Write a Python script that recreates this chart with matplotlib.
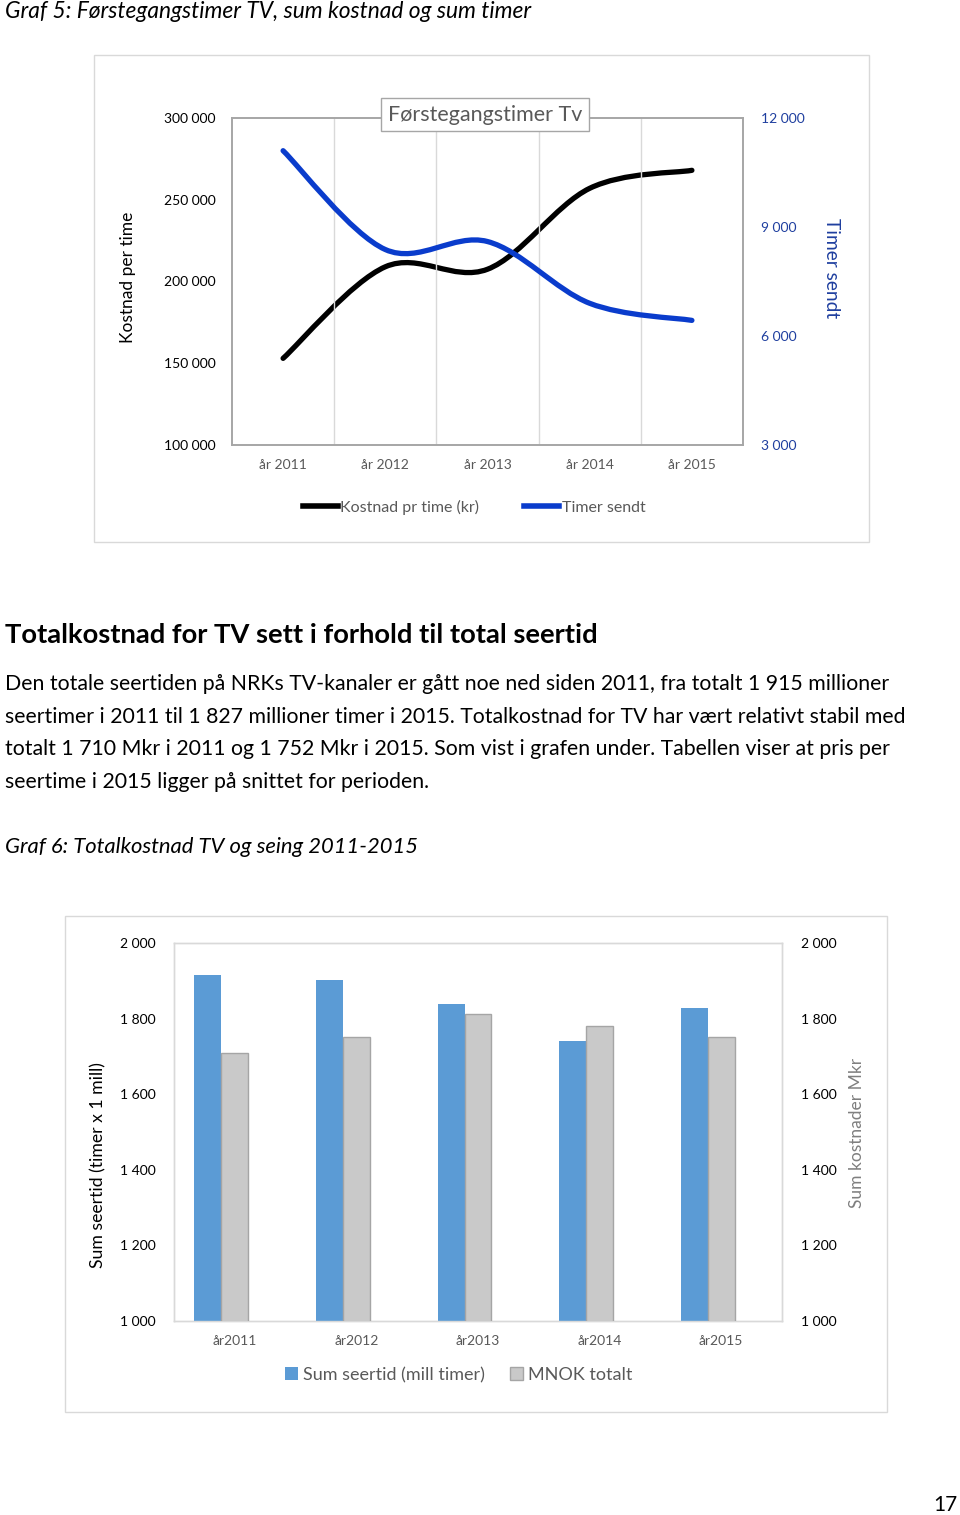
import matplotlib.pyplot as plt
from matplotlib.path import Path
from matplotlib.patches import PathPatch, Rectangle
from matplotlib.lines import Line2D
from matplotlib.ticker import FuncFormatter

plt.rcParams['font.family'] = ['Lato', 'DejaVu Sans']

# Graf 5 data
years_1 = ["år 2011", "år 2012", "år 2013", "år 2014", "år 2015"]
kostnad_pr_time = [153000, 209000, 207500, 257000, 268000]
timer_sendt = [11100, 8380, 8600, 6900, 6430]

# Graf 6 data
years_2 = ["år2011", "år2012", "år2013", "år2014", "år2015"]
sum_seertid = [1915, 1902, 1838, 1742, 1827]
mnok_totalt = [1710, 1752, 1811, 1780, 1752]

W, H = 960, 1515
fig = plt.figure(figsize=(W / 100, H / 100), dpi=100)


def fy(y):
    return 1 - y / H


def fx(x):
    return x / W


def space_fmt(v, pos):
    return f"{int(round(v)):,}".replace(",", " ")


def smooth_path(xs, ys):
    # Excel-style smoothed line: cubic bezier through every point
    pts = list(zip(xs, ys))
    n = len(pts)
    verts = [pts[0]]
    codes = [Path.MOVETO]
    for i in range(n - 1):
        p0 = pts[i - 1] if i > 0 else pts[i]
        p1, p2 = pts[i], pts[i + 1]
        p3 = pts[i + 2] if i + 2 < n else pts[i + 1]
        c1 = (p1[0] + (p2[0] - p0[0]) / 6, p1[1] + (p2[1] - p0[1]) / 6)
        c2 = (p2[0] - (p3[0] - p1[0]) / 6, p2[1] - (p3[1] - p1[1]) / 6)
        verts += [c1, c2, p2]
        codes += [Path.CURVE4] * 3
    return Path(verts, codes)


# ---- page text ----
fig.text(fx(5), fy(11), "Graf 5: Førstegangstimer TV, sum kostnad og sum timer",
         fontsize=16.4, style='italic', va='center', ha='left')

fig.text(fx(5), fy(635), "Totalkostnad for TV sett i forhold til total seertid",
         fontsize=19.7, fontweight='bold', va='center', ha='left')
para = [
    "Den totale seertiden på NRKs TV-kanaler er gått noe ned siden 2011, fra totalt 1 915 millioner",
    "seertimer i 2011 til 1 827 millioner timer i 2015. Totalkostnad for TV har vært relativt stabil med",
    "totalt 1 710 Mkr i 2011 og 1 752 Mkr i 2015. Som vist i grafen under. Tabellen viser at pris per",
    "seertime i 2015 ligger på snittet for perioden.",
]
for i, line in enumerate(para):
    fig.text(fx(5), fy(684 + i * 32.7), line, fontsize=15.3, va='center', ha='left')

fig.text(fx(5), fy(847), "Graf 6: Totalkostnad TV og seing 2011-2015",
         fontsize=15.8, style='italic', va='center', ha='left')
fig.text(fx(958), fy(1505), "17", fontsize=15, va='center', ha='right')

# chart borders
for (x0, y0, x1, y1) in [(94, 55, 869, 542), (65, 916, 887, 1412)]:
    fig.patches.append(Rectangle((fx(x0), fy(y1)), fx(x1 - x0), (y1 - y0) / H,
                                 transform=fig.transFigure, fill=False,
                                 edgecolor='#d9d9d9', lw=1))

# ---- Graf 5 ----
ax = fig.add_axes([fx(232), fy(445), fx(743 - 232), (445 - 118) / H])
ax2 = ax.twinx()
x1 = list(range(len(years_1)))
ax.set_xlim(-0.5, 4.5)
ax.set_ylim(100000, 300000)
ax2.set_ylim(3000, 12000)
ax.set_yticks([100000, 150000, 200000, 250000, 300000])
ax2.set_yticks([3000, 6000, 9000, 12000])
ax.yaxis.set_major_formatter(FuncFormatter(space_fmt))
ax2.yaxis.set_major_formatter(FuncFormatter(space_fmt))
ax.set_xticks(x1)
ax.set_xticklabels(years_1)
ax.set_xticks([0.5, 1.5, 2.5, 3.5], minor=True)
ax.grid(which='minor', axis='x', color='#d9d9d9', lw=1)
ax.tick_params(which='both', length=0)
ax.tick_params(axis='y', labelsize=10, pad=12, labelcolor='black')
ax.tick_params(axis='x', labelsize=10, pad=10, labelcolor='#595959')
ax2.tick_params(length=0, labelsize=10, pad=13, labelcolor='#1f3f9f')
for a in (ax, ax2):
    for s in a.spines.values():
        s.set_color('#a6a6a6')
        s.set_linewidth(1.2)

black = '#000000'
blue = '#0a3ccc'
ax.add_patch(PathPatch(smooth_path(x1, kostnad_pr_time), fill=False, edgecolor=black,
                       lw=3.8, capstyle='round', joinstyle='round'))
ax2.add_patch(PathPatch(smooth_path(x1, timer_sendt), fill=False, edgecolor=blue,
                        lw=3.8, capstyle='round', joinstyle='round'))

ax2.text(0.495, 1.01, "Førstegangstimer Tv", transform=ax2.transAxes, ha='center',
         va='center', fontsize=15.5, color='#595959', zorder=10,
         bbox=dict(boxstyle='square,pad=0.3', facecolor='white', edgecolor='#a6a6a6', lw=1))

fig.text(fx(128), fy(277), "Kostnad per time", rotation=90, ha='center', va='center',
         fontsize=12.5, color='black')
fig.text(fx(831), fy(268), "Timer sendt", rotation=270, ha='center', va='center',
         fontsize=13.8, color='#1f3f9f')

handles = [Line2D([], [], color=black, lw=4), Line2D([], [], color=blue, lw=4)]
leg = fig.legend(handles, ["Kostnad pr time (kr)", "Timer sendt"], loc='center',
                 bbox_to_anchor=(fx(474), fy(507)), ncol=2, frameon=False,
                 fontsize=11.5, handlelength=2.2, handletextpad=0.15, columnspacing=2.8)
for t in leg.get_texts():
    t.set_color('#595959')

# ---- Graf 6 ----
bx = fig.add_axes([fx(174), fy(1321), fx(782 - 174), (1321 - 943) / H])
bx2 = bx.twinx()
x2 = list(range(len(years_2)))
bw = 0.222
bx.bar([x - bw for x in x2], sum_seertid, width=bw, color='#5b9bd5', zorder=3)
bx2.bar(x2, mnok_totalt, width=bw, color='#c9c9c9', edgecolor='#a5a5a5', lw=1, zorder=3)
for a in (bx, bx2):
    a.set_ylim(1000, 2000)
    a.set_yticks([1000, 1200, 1400, 1600, 1800, 2000])
    a.yaxis.set_major_formatter(FuncFormatter(space_fmt))
    a.tick_params(length=0, labelsize=10, labelcolor='black')
    for s in a.spines.values():
        s.set_color('#d9d9d9')
        s.set_linewidth(1)
bx.tick_params(axis='y', pad=13)
bx2.tick_params(axis='y', pad=14)
bx.set_xlim(-0.5, 4.5)
bx.set_xticks(x2)
bx.set_xticklabels(years_2)
bx.tick_params(axis='x', pad=10, labelcolor='#595959')

fig.text(fx(98), fy(1165), "Sum seertid (timer x 1 mill)", rotation=90, ha='center',
         va='center', fontsize=12.7, color='black')
fig.text(fx(857), fy(1133), "Sum kostnader Mkr", rotation=90, ha='center',
         va='center', fontsize=12.5, color='#7f7f7f')

h2 = [Rectangle((0, 0), 1, 1, facecolor='#5b9bd5'),
      Rectangle((0, 0), 1, 1, facecolor='#c9c9c9', edgecolor='#a5a5a5')]
leg2 = fig.legend(h2, ["Sum seertid (mill timer)", "MNOK totalt"], loc='center',
                  bbox_to_anchor=(fx(459), fy(1375)), ncol=2, frameon=False,
                  fontsize=13, handlelength=0.7, handleheight=0.7,
                  handletextpad=0.3, columnspacing=1.4)
for t in leg2.get_texts():
    t.set_color('#595959')

fig.savefig('out.png', dpi=100)
